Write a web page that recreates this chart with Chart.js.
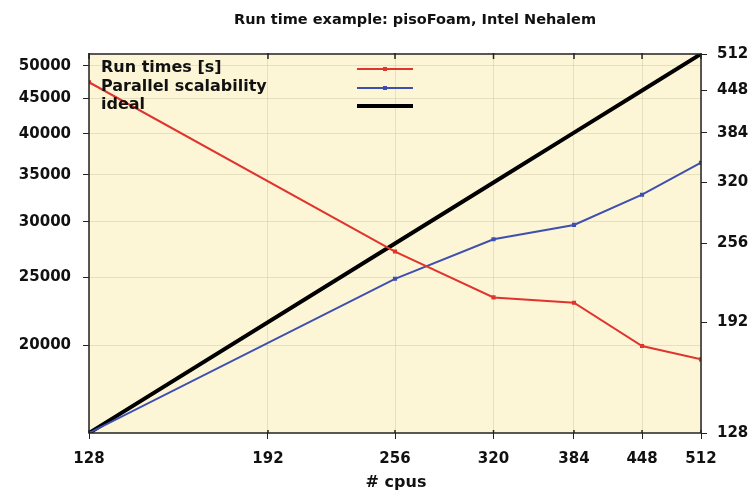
<!DOCTYPE html>
<html>
<head>
<meta charset="utf-8">
<script src="https://cdn.jsdelivr.net/npm/chart.js@4.4.0/dist/chart.umd.min.js"></script>
<style>
  html, body { margin: 0; padding: 0; background: #fff; }
  #wrap { width: 752px; height: 492px; }
</style>
</head>
<body>
<div id="wrap"><canvas id="runchart" width="752" height="492"></canvas></div>
<script>
// values
var cpus = [128, 256, 320, 384, 448, 512];
var runTimes = [47400, 27200, 23400, 23000, 19950, 19100];
var scalability = [128, 225, 260, 274, 306, 344];
var ideal = [128, 256, 320, 384, 448, 512];

var cpuTicks = [128, 192, 256, 320, 384, 448, 512];
var timeTicks = [20000, 25000, 30000, 35000, 40000, 45000, 50000];
var scaleTicks = [128, 192, 256, 320, 384, 448, 512];

var seriesNames = ["Run times [s]", "Parallel scalability", "ideal"];

function pts(ys) {
  return cpus.map(function (x, i) { return { x: x, y: ys[i] }; });
}

var FONT = "'DejaVu Sans', sans-serif";

var framePlugin = {
  id: 'frame',
  beforeDraw: function (chart) {
    var c = chart.ctx, a = chart.chartArea;
    c.save();
    c.fillStyle = '#fdf6d6';
    c.fillRect(a.left, a.top, a.right - a.left, a.bottom - a.top);
    c.restore();
  },
  afterDraw: function (chart) {
    var c = chart.ctx, a = chart.chartArea;
    c.save();
    c.strokeStyle = '#222';
    c.lineWidth = 1.5;
    c.strokeRect(a.left, a.top, a.right - a.left, a.bottom - a.top);
    // mirrored ticks on top edge, small inward ticks at the bottom
    var xs = chart.scales.x;
    cpuTicks.forEach(function (v) {
      var px = xs.getPixelForValue(v);
      c.beginPath(); c.moveTo(px, a.top - 1); c.lineTo(px, a.top + 5); c.stroke();
      c.beginPath(); c.moveTo(px, a.bottom); c.lineTo(px, a.bottom - 3); c.stroke();
    });
    // title and x label
    c.fillStyle = '#111';
    c.textAlign = 'center';
    c.textBaseline = 'middle';
    c.font = 'bold 14.5px ' + FONT;
    c.fillText('Run time example: pisoFoam, Intel Nehalem', 415, 20);
    c.font = 'bold 16px ' + FONT;
    c.fillText('# cpus', 396, 483);
    // legend
    var ds = chart.data.datasets;
    var rows = [68, 87, 105];
    c.font = 'bold 16px ' + FONT;
    c.textAlign = 'left';
    ds.forEach(function (d, i) {
      c.fillStyle = '#111';
      c.fillText(seriesNames[i], 101, rows[i]);
      c.strokeStyle = d.borderColor;
      c.lineWidth = d.borderWidth;
      c.beginPath(); c.moveTo(357, rows[i] + 1); c.lineTo(413, rows[i] + 1); c.stroke();
      if (d.pointRadius > 0) {
        c.fillStyle = d.borderColor;
        c.fillRect(383, rows[i] - 1, 4, 4);
      }
    });
    c.restore();
  }
};

var ctx = document.getElementById('runchart').getContext('2d');
var runChart = new Chart(ctx, {
  type: 'line',
  data: {
    datasets: [{
      label: seriesNames[0],
      data: pts(runTimes),
      yAxisID: 'yTime',
      borderColor: '#e0342e',
      backgroundColor: '#e0342e',
      borderWidth: 2,
      pointRadius: 1.5,
      pointStyle: 'rect'
    }, {
      label: seriesNames[1],
      data: pts(scalability),
      yAxisID: 'yScale',
      borderColor: '#3f4fb0',
      backgroundColor: '#3f4fb0',
      borderWidth: 2,
      pointRadius: 1.5,
      pointStyle: 'rect'
    }, {
      label: seriesNames[2],
      data: pts(ideal),
      yAxisID: 'yScale',
      borderColor: '#000',
      backgroundColor: '#000',
      borderWidth: 4,
      pointRadius: 0
    }]
  },
  options: {
    responsive: false,
    animation: false,
    layout: { padding: { top: 54, left: 0, right: 0, bottom: 0 } },
    plugins: {
      legend: { display: false },
      title: { display: false },
      tooltip: { enabled: false }
    },
    scales: {
      x: {
        type: 'logarithmic',
        min: 128, max: 512,
        afterBuildTicks: function (s) { s.ticks = cpuTicks.map(function (v) { return { value: v }; }); },
        afterFit: function (s) { s.height = 59; },
        grid: { color: 'rgba(120,110,70,0.16)', tickColor: '#222', tickLength: 6, drawOnChartArea: true },
        border: { display: false },
        ticks: {
          color: '#111', padding: 11, maxRotation: 0, autoSkip: false,
          font: { family: FONT, size: 15, weight: 'bold' },
          callback: function (v) { return String(v); }
        }
      },
      yTime: {
        type: 'logarithmic',
        position: 'left',
        min: 15000, max: 52000,
        afterBuildTicks: function (s) { s.ticks = timeTicks.map(function (v) { return { value: v }; }); },
        afterFit: function (s) { s.width = 89; },
        grid: { color: 'rgba(120,110,70,0.16)', tickColor: '#222', tickLength: 6 },
        border: { display: false },
        ticks: {
          color: '#111', padding: 12, autoSkip: false,
          font: { family: FONT, size: 15, weight: 'bold' },
          callback: function (v) { return String(v); }
        }
      },
      yScale: {
        type: 'logarithmic',
        position: 'right',
        min: 128, max: 512,
        afterBuildTicks: function (s) { s.ticks = scaleTicks.map(function (v) { return { value: v }; }); },
        afterFit: function (s) { s.width = 51; },
        grid: { drawOnChartArea: false, tickColor: '#222', tickLength: 6 },
        border: { display: false },
        ticks: {
          color: '#111', padding: 10, autoSkip: false,
          font: { family: FONT, size: 15, weight: 'bold' },
          callback: function (v) { return String(v); }
        }
      }
    }
  },
  plugins: [framePlugin]
});
</script>
</body>
</html>
